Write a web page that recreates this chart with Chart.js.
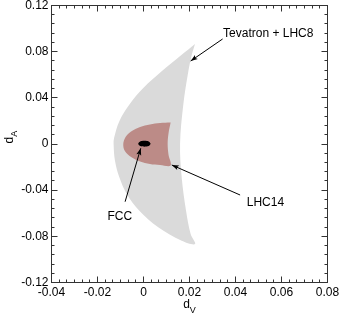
<!DOCTYPE html>
<html>
<head>
<meta charset="utf-8">
<script src="https://cdn.jsdelivr.net/npm/chart.js@4.4.1/dist/chart.umd.min.js"></script>
<style>
  html, body { margin: 0; padding: 0; background: #fff; }
  canvas { display: block; }
</style>
</head>
<body>
<canvas id="c" width="341" height="315"></canvas>
<script>
// axis ticks
const xTicks = [-0.04, -0.02, 0, 0.02, 0.04, 0.06, 0.08];
const yTicks = [-0.12, -0.08, -0.04, 0, 0.04, 0.08, 0.12];
const xMinorPerMajor = 6;
const yMinorPerMajor = 5;

// Tevatron + LHC8 region: outer edge top tip -> bottom tip, then inner edge back up
const tevX = [0.0224, 0.0166, 0.0079, -0.0001, -0.0062, -0.0105, -0.0128, -0.0130, -0.0124, -0.0105, -0.0073, -0.0018, 0.0064, 0.0166, 0.0224,
              0.0205, 0.0185, 0.0166, 0.0159, 0.0173, 0.0195, 0.0210, 0.0224];
const tevY = [0.0867, 0.0773, 0.0630, 0.0485, 0.0340, 0.0197, 0.0052, 0, -0.0145, -0.0289, -0.0433, -0.0578, -0.0722, -0.0838, -0.0867,
              -0.0780, -0.0578, -0.0289, 0, 0.0340, 0.0630, 0.0773, 0.0867];

// LHC14 region
const lhcX = [0.0118, 0.0072, 0.0028, -0.0015, -0.0054, -0.0078, -0.0088, -0.0081, -0.0054, -0.0015, 0.0028, 0.0072, 0.0118, 0.0109, 0.0105, 0.0109, 0.0118];
const lhcY = [0.0187, 0.0183, 0.0170, 0.0148, 0.0109, 0.0061, 0, -0.0061, -0.0113, -0.0152, -0.0174, -0.0183, -0.0187, -0.0096, 0, 0.0096, 0.0187];

// FCC region (small ellipse)
const fccX = [0.0031, 0.0027, 0.0018, 0.0004, -0.0010, -0.0019, -0.0023, -0.0019, -0.0010, 0.0004, 0.0018, 0.0027, 0.0031];
const fccY = [0.0003, 0.0016, 0.0026, 0.0029, 0.0026, 0.0016, 0.0003, -0.0010, -0.0020, -0.0023, -0.0020, -0.0010, 0.0003];

// labels (left/baseline) and arrows
const labelText = ['Tevatron + LHC8', 'LHC14', 'FCC'];
const labelX = [0.0346, 0.0449, -0.0157];
const labelY = [0.093, -0.0537, -0.0659];
const arrowFromX = [0.0344, 0.042, -0.008];
const arrowFromY = [0.091, -0.0442, -0.05];
const arrowToX = [0.0205, 0.0123, -0.0012];
const arrowToY = [0.0719, -0.0182, -0.0037];

const FONT = '"Liberation Sans", Arial, Helvetica, sans-serif';

function pts(xs, ys) {
  return xs.map((v, i) => ({x: v, y: ys[i]}));
}
function fmt(v) {
  return parseFloat(Number(v).toFixed(2)).toString();
}

// frame, inward ticks, arrows, labels, axis titles
const framePlugin = {
  id: 'frame',
  afterDraw(chart) {
    const ctx = chart.ctx;
    const a = chart.chartArea;
    const xs = chart.scales.x, ys = chart.scales.y;
    const snap = p => Math.round(p - 0.5) + 0.5;
    ctx.save();
    ctx.strokeStyle = '#333';
    ctx.lineWidth = 1;
    ctx.strokeRect(a.left, a.top, a.right - a.left, a.bottom - a.top);

    ctx.beginPath();
    function xTick(v, len) {
      const p = snap(xs.getPixelForValue(v));
      ctx.moveTo(p, a.bottom); ctx.lineTo(p, a.bottom - len);
      ctx.moveTo(p, a.top); ctx.lineTo(p, a.top + len);
    }
    function yTick(v, len) {
      const p = snap(ys.getPixelForValue(v));
      ctx.moveTo(a.left, p); ctx.lineTo(a.left + len, p);
      ctx.moveTo(a.right, p); ctx.lineTo(a.right - len, p);
    }
    for (let i = 0; i < xTicks.length; i++) {
      xTick(xTicks[i], 6);
      if (i < xTicks.length - 1) {
        const st = (xTicks[i + 1] - xTicks[i]) / xMinorPerMajor;
        for (let k = 1; k < xMinorPerMajor; k++) xTick(xTicks[i] + k * st, 3);
      }
    }
    for (let i = 0; i < yTicks.length; i++) {
      yTick(yTicks[i], 6);
      if (i < yTicks.length - 1) {
        const st = (yTicks[i + 1] - yTicks[i]) / yMinorPerMajor;
        for (let k = 1; k < yMinorPerMajor; k++) yTick(yTicks[i] + k * st, 3);
      }
    }
    ctx.stroke();

    // arrows
    ctx.strokeStyle = '#000';
    ctx.fillStyle = '#000';
    for (let i = 0; i < arrowFromX.length; i++) {
      const x0 = xs.getPixelForValue(arrowFromX[i]), y0 = ys.getPixelForValue(arrowFromY[i]);
      const x1 = xs.getPixelForValue(arrowToX[i]), y1 = ys.getPixelForValue(arrowToY[i]);
      const ang = Math.atan2(y1 - y0, x1 - x0);
      ctx.beginPath();
      ctx.moveTo(x0, y0); ctx.lineTo(x1, y1);
      ctx.stroke();
      ctx.beginPath();
      ctx.moveTo(x1, y1);
      ctx.lineTo(x1 - 7 * Math.cos(ang) + 2.5 * Math.sin(ang), y1 - 7 * Math.sin(ang) - 2.5 * Math.cos(ang));
      ctx.lineTo(x1 - 5.5 * Math.cos(ang), y1 - 5.5 * Math.sin(ang));
      ctx.lineTo(x1 - 7 * Math.cos(ang) - 2.5 * Math.sin(ang), y1 - 7 * Math.sin(ang) + 2.5 * Math.cos(ang));
      ctx.closePath();
      ctx.fill();
    }

    // labels
    ctx.font = '12px ' + FONT;
    ctx.textAlign = 'left';
    ctx.textBaseline = 'alphabetic';
    for (let i = 0; i < labelText.length; i++) {
      ctx.fillText(labelText[i], xs.getPixelForValue(labelX[i]), ys.getPixelForValue(labelY[i]));
    }

    // x title: d_V
    ctx.font = '12px ' + FONT;
    const wd = ctx.measureText('d').width;
    ctx.font = '9px ' + FONT;
    const wv = ctx.measureText('V').width;
    const cx = (a.left + a.right) / 2;
    ctx.font = '12px ' + FONT;
    ctx.fillText('d', cx - (wd + wv) / 2, 308);
    ctx.font = '9px ' + FONT;
    ctx.fillText('V', cx - (wd + wv) / 2 + wd, 312.5);

    // y title: d_A
    ctx.translate(12.5, 143.5);
    ctx.rotate(-Math.PI / 2);
    ctx.font = '12px ' + FONT;
    ctx.fillText('d', 0, 0);
    ctx.font = '9px ' + FONT;
    ctx.fillText('A', wd, 4);
    ctx.restore();
  }
};

new Chart(document.getElementById('c'), {
  type: 'scatter',
  data: {
    datasets: [
      {label: 'FCC', data: pts(fccX, fccY), showLine: true, fill: 'shape', tension: 0.4,
       backgroundColor: '#000', borderColor: 'rgba(0,0,0,0)', borderWidth: 0, pointRadius: 0},
      {label: 'LHC14', data: pts(lhcX, lhcY), showLine: true, fill: 'shape', tension: 0.35,
       backgroundColor: '#bc8b87', borderColor: 'rgba(0,0,0,0)', borderWidth: 0, pointRadius: 0},
      {label: 'Tevatron + LHC8', data: pts(tevX, tevY), showLine: true, fill: 'shape', tension: 0.35,
       backgroundColor: '#dadada', borderColor: 'rgba(0,0,0,0)', borderWidth: 0, pointRadius: 0}
    ]
  },
  options: {
    responsive: false,
    animation: false,
    events: [],
    layout: {padding: {left: 0, right: 13.5, top: 5.5, bottom: 0}},
    plugins: {legend: {display: false}, tooltip: {enabled: false}},
    scales: {
      x: {
        type: 'linear', min: -0.04, max: 0.08,
        afterBuildTicks: s => { s.ticks = xTicks.map(v => ({value: v})); },
        afterFit: s => { s.height = 32.5; s.paddingLeft = 0; s.paddingRight = 0; },
        grid: {display: false, drawTicks: false},
        border: {display: false},
        ticks: {callback: v => fmt(v), font: {family: FONT, size: 12}, color: '#000', padding: 3, maxRotation: 0, autoSkip: false}
      },
      y: {
        type: 'linear', min: -0.12, max: 0.12,
        afterBuildTicks: s => { s.ticks = yTicks.map(v => ({value: v})); },
        afterFit: s => { s.width = 51.5; s.paddingTop = 0; s.paddingBottom = 0; },
        grid: {display: false, drawTicks: false},
        border: {display: false},
        ticks: {callback: v => fmt(v), font: {family: FONT, size: 12}, color: '#000', padding: 3, autoSkip: false}
      }
    }
  },
  plugins: [framePlugin]
});
</script>
</body>
</html>
